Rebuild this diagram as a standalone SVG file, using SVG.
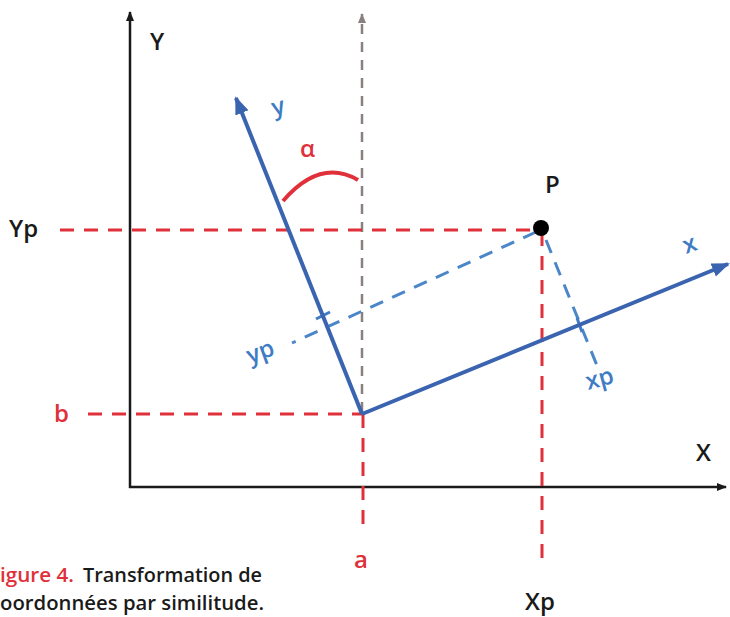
<svg xmlns="http://www.w3.org/2000/svg" width="730" height="617" viewBox="0 0 730 617">
<defs>
<style>
.lbl{font-family:"Open Sans","Liberation Sans",sans-serif;font-size:24px;font-weight:600;}
.blk{fill:#1a1a1a;}
.red{fill:#e0303a;}
.blu{fill:#3f7cc4;}
.cap{font-family:"Open Sans","Liberation Sans",sans-serif;font-size:20px;font-weight:600;}
.axis{stroke:#1a1a1a;stroke-width:2.5;fill:none;}
.rdash{stroke:#e0303a;stroke-width:3;stroke-dasharray:14 10;fill:none;}
.gdash{stroke:#8a8080;stroke-width:2.5;stroke-dasharray:10 8;fill:none;}
.bdash{stroke:#4a86c8;stroke-width:3;stroke-dasharray:14 10;fill:none;}
.baxis{stroke:#3a63b0;stroke-width:4;fill:none;}
</style>
<marker id="ab" markerWidth="10" markerHeight="10" refX="9" refY="5" orient="auto" markerUnits="userSpaceOnUse"><path d="M0,1 L10,5 L0,9 Z" fill="#1a1a1a"/></marker>
<marker id="ag" markerWidth="10" markerHeight="10" refX="9" refY="5" orient="auto" markerUnits="userSpaceOnUse"><path d="M0,1 L10,5 L0,9 Z" fill="#8a8080"/></marker>
<marker id="abl" markerWidth="18" markerHeight="16" refX="16" refY="8" orient="auto" markerUnits="userSpaceOnUse"><path d="M0,1 L18,8 L0,15 Z" fill="#3a63b0"/></marker>
</defs>
<rect width="730" height="617" fill="#ffffff"/>
<g id="connectors">
<line class="axis" x1="130" y1="488" x2="130" y2="12" marker-end="url(#ab)"/>
<line class="axis" x1="129" y1="487" x2="726" y2="487" marker-end="url(#ab)"/>
<line class="gdash" x1="362" y1="412" x2="362" y2="14" marker-end="url(#ag)"/>
<line class="rdash" x1="88" y1="414" x2="362" y2="414"/>
<line class="rdash" x1="363" y1="414" x2="363" y2="532"/>
<line class="rdash" x1="60" y1="230" x2="540" y2="230"/>
<line class="rdash" x1="542" y1="232" x2="542" y2="564"/>
<line class="bdash" x1="536" y1="232" x2="292" y2="343"/>
<line class="bdash" x1="546" y1="240" x2="598" y2="368"/>
<line stroke="#3f7cc4" stroke-width="3" x1="316" y1="319" x2="330" y2="312"/>
<line stroke="#3f7cc4" stroke-width="3" x1="577" y1="318" x2="582" y2="332"/>
<line class="baxis" x1="362" y1="414" x2="236" y2="98" marker-end="url(#abl)"/>
<line class="baxis" x1="362" y1="414" x2="728" y2="264" marker-end="url(#abl)"/>
<path d="M283,201 Q320,158 358,180" stroke="#e0303a" stroke-width="4" fill="none"/>
</g>
<g id="axis-Y"><text class="lbl blk" x="150" y="50">Y</text></g>
<g id="axis-X"><text class="lbl blk" x="696" y="461">X</text></g>
<g id="label-Yp"><text class="lbl blk" x="9" y="237">Yp</text></g>
<g id="label-b"><text class="lbl red" x="54" y="422">b</text></g>
<g id="label-a"><text class="lbl red" x="354" y="568">a</text></g>
<g id="label-Xp"><text class="lbl blk" x="525" y="610">Xp</text></g>
<g id="point-P"><circle cx="541" cy="228" r="8" fill="#000"/><text class="lbl blk" x="545" y="193">P</text></g>
<g id="label-alpha"><text class="lbl red" x="300" y="157" font-size="26">α</text></g>
<g id="label-y"><text class="lbl blu" x="0" y="0" transform="translate(274,116) rotate(-15)">y</text></g>
<g id="label-x"><text class="lbl blu" x="0" y="0" transform="translate(686,254) rotate(-20)">x</text></g>
<g id="label-yp"><text class="lbl blu" x="0" y="0" transform="translate(250,364) rotate(-20)">yp</text></g>
<g id="label-xp"><text class="lbl blu" x="0" y="0" transform="translate(588,390) rotate(-15)">xp</text></g>
<g id="caption">
<text class="cap red" x="0" y="582" textLength="74" lengthAdjust="spacingAndGlyphs">igure 4.</text>
<text class="cap blk" x="83" y="582" textLength="179" lengthAdjust="spacingAndGlyphs">Transformation de</text>
<text class="cap blk" x="0" y="610" textLength="264" lengthAdjust="spacingAndGlyphs">oordonnées par similitude.</text>
</g>
</svg>
